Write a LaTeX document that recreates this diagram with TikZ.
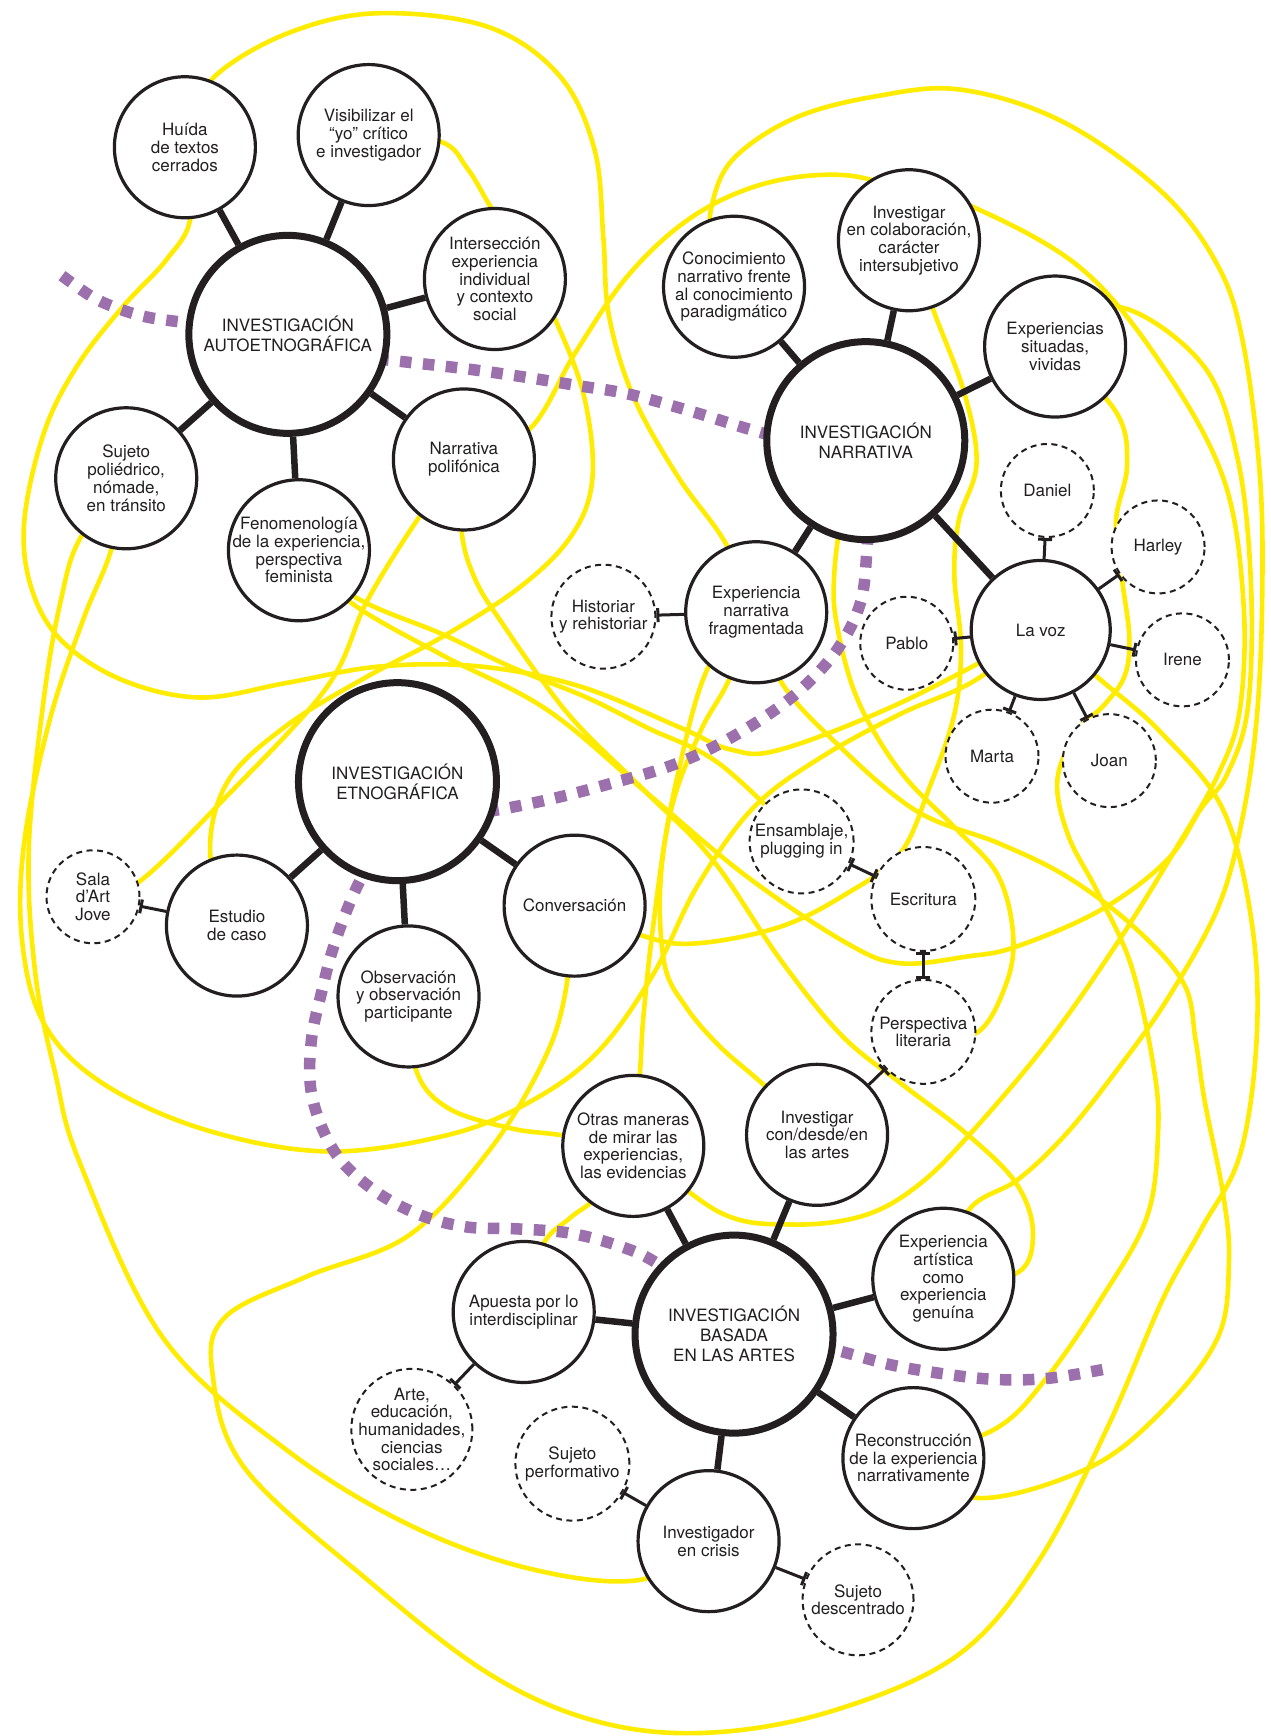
\documentclass[tikz,border=0pt]{standalone}
\usepackage{fontspec}
\setmainfont{TeX Gyre Heros}
\usetikzlibrary{arrows.meta}
\definecolor{ylw}{RGB}{255,236,0}
\definecolor{purp}{RGB}{155,112,172}
\definecolor{ink}{RGB}{35,31,32}
\pgfdeclarelayer{bg}
\pgfsetlayers{bg,main}
\newcommand{\cn}[5]{\node[#1] (#3) at (#4) {}; \node[#2] (#3t) at (#3.center) {#5};}
\begin{document}
\begin{tikzpicture}[x=1.1071pt,y=-1.1071pt,
 mainc/.style={circle,draw=ink,line width=7pt,fill=white,minimum size=198pt,inner sep=0pt},
 secc/.style={circle,draw=ink,line width=3.2pt,fill=white,minimum size=141pt,inner sep=0pt},
 dashc/.style={circle,draw=ink,line width=2pt,dash pattern=on 6pt off 4.5pt,fill=white,minimum size=#1,inner sep=0pt},
 dashc/.default=93pt,
 txt/.style={align=center,font=\fontsize{17}{17.7}\selectfont,text=ink,inner sep=0pt},
 mtxt/.style={align=center,font=\fontsize{17}{20}\selectfont,text=ink,inner sep=0pt},
 lk/.style={draw=ink,line width=6.5pt},
 tl/.style={draw=ink,line width=3pt},
 tbar/.style={tl,-{Bar[width=14pt]}},
 ttbar/.style={tl,{Bar[width=14pt]}-{Bar[width=14pt]}},
 yel/.style={draw=ylw,line width=4.6pt},
 pdash/.style={draw=purp,line width=11.5pt,dash pattern=on 11.5pt off 11.5pt}]
\useasboundingbox (0,0) rectangle (1148,1568);
\begin{pgfonlayer}{bg}
\fill[white] (0,0) rectangle (1148,1568);
% yellow curves
\draw[yel] plot[smooth,tension=0.6] coordinates {(172,110) (195,68) (260,30) (340,12) (440,24) (505,68) (537,135) (545,215) (550,285) (572,358) (612,430) (655,490) (683,553)};
\draw[yel] plot[smooth,tension=0.6] coordinates {(419,415) (478,388) (520,318) (568,248) (625,196) (690,166) (760,158) (821,172) (879,187) (976,242) (1049,329) (1105,432) (1123,542) (1120,640) (1100,700) (1060,770) (1009,852) (948,939) (880,1020) (830,1070) (780,1098) (715,1106) (650,1095) (572,1035)};
\draw[yel] plot[smooth,tension=0.6] coordinates {(663,259) (646,215) (642,190) (661,145) (717,107) (791,87) (868,81) (960,110) (1049,173) (1100,240) (1123,311) (1138,430) (1140,542) (1135,650) (1122,740) (1100,820) (1054,903) (1010,965) (964,1023) (920,1065) (875,1093) (852,1155)};
\draw[yel] plot[smooth,tension=0.6] coordinates {(953,313) (1009,277) (1086,329) (1118,415) (1130,530) (1127,640) (1108,700) (1085,730) (1054,777) (994,822) (918,855) (873,864) (813,870) (765,852) (675,792) (584,716) (494,641) (400,592) (318,545) (270,497)};
\draw[yel] plot[smooth,tension=0.6] coordinates {(270,497) (322,540) (400,573) (463,603) (530,630) (584,657) (650,690) (724,760)};
\draw[yel] plot[smooth,tension=0.6] coordinates {(953,313) (1008,372) (1018,420) (1008,470) (1013,520) (1020,575) (1016,610) (998,636) (972,662) (955,705) (965,755) (992,807) (1022,873) (1042,964) (1046,1023) (1036,1099) (994,1174) (945,1245) (900,1290) (825,1317)};
\draw[yel] plot[smooth,tension=0.6] coordinates {(114,432) (72,487) (55,542) (40,628) (26,766) (32,880) (50,970) (72,1050) (147,1208) (258,1309) (369,1377) (479,1417) (578,1427) (640,1392)};
\draw[yel] plot[smooth,tension=0.6] coordinates {(114,432) (100,498) (75,560) (45,650) (22,760) (20,850) (40,925) (92,978) (184,1020) (295,1040) (405,1025) (479,995) (540,950) (590,880) (630,800) (680,730) (740,685) (813,645) (880,615) (940,569)};
\draw[yel] plot[smooth,tension=0.6] coordinates {(167,133) (172,197) (150,235) (111,277) (70,330) (40,390) (22,470) (28,530) (55,578) (110,614) (181,630) (258,617) (343,602) (434,602) (524,620) (614,657) (660,677) (705,677) (813,635) (940,569)};
\draw[yel] plot[smooth,tension=0.6] coordinates {(333,122) (398,128) (422,152) (442,185) (475,240) (503,292) (528,360) (535,433) (516,484) (470,530) (400,575) (330,612) (258,656) (205,707) (190,773) (214,836)};
\draw[yel] plot[smooth,tension=0.6] coordinates {(419,415) (380,465) (332,542) (295,621) (203,721) (125,797) (84,810)};
\draw[yel] plot[smooth,tension=0.6] coordinates {(419,415) (417,480) (430,525) (455,565) (490,615) (524,657) (584,716) (644,777) (705,867) (760,935) (813,978) (873,1024) (918,1069) (933,1114) (918,1150) (852,1155)};
\draw[yel] plot[smooth,tension=0.6] coordinates {(821,217) (843,280) (871,355) (882,419) (866,470) (862,520) (868,585) (862,645) (840,710) (813,771) (765,807) (705,837) (630,852) (583,846) (519,818)};
\draw[yel] plot[smooth,tension=0.6] coordinates {(782,398) (760,470) (753,530) (757,570) (770,620) (790,662) (820,705) (864,749) (901,790) (915,843) (909,888) (882,933) (834,932)};
\draw[yel] plot[smooth,tension=0.6] coordinates {(683,553) (640,602) (613,696) (597,790) (600,870) (620,910) (650,945) (690,980) (738,1025)};
\draw[yel] plot[smooth,tension=0.6] coordinates {(683,553) (658,615) (632,662) (606,732) (590,836) (581,920) (578,969) (572,1035) (540,1080) (515,1100) (490,1125) (473,1185)};
\draw[yel] plot[smooth,tension=0.6] coordinates {(683,553) (705,615) (753,669) (827,732) (903,762) (964,792) (1024,837) (1069,888) (1080,940) (1088,994) (1105,1080) (1110,1140) (1100,1208) (1049,1275) (983,1326) (883,1353) (825,1317)};
\draw[yel] plot[smooth,tension=0.6] coordinates {(940,569) (994,614) (1049,662) (1105,732) (1131,836) (1135,939) (1120,1043) (1085,1110) (1050,1174) (1000,1290) (938,1410) (865,1495) (753,1545) (640,1565) (540,1555) (442,1512) (332,1427) (221,1326) (192,1241) (203,1190) (277,1153) (369,1116) (442,1039) (490,960) (510,900) (519,818)};
\draw[yel] plot[smooth,tension=0.6] coordinates {(369,900) (376,967) (405,1001) (461,1019) (505,1025) (572,1035)};
% purple dashed line
\draw[pdash] plot[smooth,tension=0.6] coordinates {(56,249) (83,268) (105,278) (127,285) (149,289) (200,295)};
\draw[pdash] plot[smooth,tension=0.6] coordinates {(320,322) (367,327) (420,333) (470,340) (520,348) (568,356) (626,372) (671,386) (720,400)};
\draw[pdash] plot[smooth,tension=0.6] coordinates {(786,440) (783,498) (777,545) (756,587) (723,623) (687,650) (644,675) (602,693) (554,707) (509,719) (463,729) (400,740)};
\draw[pdash] plot[smooth,tension=0.6] coordinates {(345,760) (321,804) (302,853) (291,894) (281,942) (282,991) (302,1040) (335,1073) (376,1096) (420,1108) (468,1110) (516,1114) (564,1127) (595,1142) (640,1175)};
\draw[pdash] plot[smooth,tension=0.6] coordinates {(700,1205) (761,1221) (806,1233) (853,1241) (900,1246) (946,1245) (996,1237)};
\end{pgfonlayer}
% nodes
\cn{mainc}{mtxt}{auto}{260,302}{INVESTIGACIÓN\\AUTOETNOGRÁFICA}
\cn{secc}{txt}{huida}{167,133}{Huída\\de textos\\cerrados}
\cn{secc}{txt}{visib}{333,122}{Visibilizar el\\“yo” crítico\\e investigador}
\cn{secc}{txt}{inters}{447,252}{Intersección\\experiencia\\individual\\y contexto\\social}
\cn{secc}{txt}{narpol}{419,415}{Narrativa\\polifónica}
\cn{secc}{txt}{fenom}{270,497}{Fenomenología\\de la experiencia,\\perspectiva\\feminista}
\cn{secc}{txt}{sujeto}{114,432}{Sujeto\\poliédrico,\\nómade,\\en tránsito}
\cn{mainc}{mtxt}{narr}{782,398}{INVESTIGACIÓN\\NARRATIVA}
\cn{secc}{txt}{conoc}{663,259}{Conocimiento\\narrativo frente\\al conocimiento\\paradigmático}
\cn{secc}{txt}{colab}{821,217}{Investigar\\en colaboración,\\carácter\\intersubjetivo}
\cn{secc}{txt}{expsit}{953,313}{Experiencias\\situadas,\\vividas}
\cn{secc}{txt}{enf}{683,553}{Experiencia\\narrativa\\fragmentada}
\cn{secc,minimum size=139pt}{txt}{lavoz}{940,569}{La voz}
\cn{dashc}{txt}{daniel}{946,443}{Daniel}
\cn{dashc}{txt}{harley}{1046,494}{Harley}
\cn{dashc}{txt}{irene}{1068,596}{Irene}
\cn{dashc}{txt}{joan}{1002,687}{Joan}
\cn{dashc}{txt}{marta}{896,683}{Marta}
\cn{dashc}{txt}{pablo}{819,581}{Pablo}
\cn{dashc=104pt}{txt}{histor}{545,557}{Historiar\\y rehistoriar}
\cn{mainc}{mtxt}{etno}{359,706}{INVESTIGACIÓN\\ETNOGRÁFICA}
\cn{secc}{txt}{estudio}{214,836}{Estudio\\de caso}
\cn{secc}{txt}{obs}{369,900}{Observación\\y observación\\participante}
\cn{secc}{txt}{conv}{519,818}{Conversación}
\cn{dashc}{txt}{sala}{84,810}{Sala\\d’Art\\Jove}
\cn{dashc=104pt}{txt}{ensam}{724,760}{Ensamblaje,\\plugging in}
\cn{dashc=104pt}{txt}{escrit}{834,812}{Escritura}
\cn{dashc=104pt}{txt}{persp}{834,932}{Perspectiva\\literaria}
\cn{mainc}{mtxt}{artes}{663,1205}{INVESTIGACIÓN\\BASADA\\EN LAS ARTES}
\cn{secc}{txt}{otras}{572,1035}{Otras maneras\\de mirar las\\experiencias,\\las evidencias}
\cn{secc}{txt}{condesde}{738,1025}{Investigar\\con/desde/en\\las artes}
\cn{secc}{txt}{expart}{852,1155}{Experiencia\\artística\\como\\experiencia\\genuína}
\cn{secc}{txt}{recon}{825,1317}{Reconstrucción\\de la experiencia\\narrativamente}
\cn{secc}{txt}{crisis}{640,1392}{Investigador\\en crisis}
\cn{secc}{txt}{apuesta}{473,1185}{Apuesta por lo\\interdisciplinar}
\cn{dashc=121pt}{txt}{arte}{372,1291}{Arte,\\educación,\\humanidades,\\ciencias\\sociales…}
\cn{dashc=114pt}{txt}{sujperf}{517,1322}{Sujeto\\performativo}
\cn{dashc=111pt}{txt}{sujdesc}{775,1445}{Sujeto\\descentrado}
% thick connectors
\draw[lk] (auto) -- (huida);
\draw[lk] (auto) -- (visib);
\draw[lk] (auto) -- (inters);
\draw[lk] (auto) -- (narpol);
\draw[lk] (auto) -- (fenom);
\draw[lk] (auto) -- (sujeto);
\draw[lk] (narr) -- (conoc);
\draw[lk] (narr) -- (colab);
\draw[lk] (narr) -- (expsit);
\draw[lk] (narr) -- (enf);
\draw[lk] (narr) -- (lavoz);
\draw[lk] (etno) -- (estudio);
\draw[lk] (etno) -- (obs);
\draw[lk] (etno) -- (conv);
\draw[lk] (artes) -- (otras);
\draw[lk] (artes) -- (condesde);
\draw[lk] (artes) -- (expart);
\draw[lk] (artes) -- (recon);
\draw[lk] (artes) -- (crisis);
\draw[lk] (artes) -- (apuesta);
% thin connectors with bars
\draw[tbar] (lavoz) -- (daniel);
\draw[tbar] (lavoz) -- (harley);
\draw[tbar] (lavoz) -- (irene);
\draw[tbar] (lavoz) -- (joan);
\draw[tbar] (lavoz) -- (marta);
\draw[tbar] (lavoz) -- (pablo);
\draw[tbar] (enf) -- (histor);
\draw[tbar] (estudio) -- (sala);
\draw[ttbar] (ensam) -- (escrit);
\draw[ttbar] (escrit) -- (persp);
\draw[tbar] (condesde) -- (persp);
\draw[tbar] (apuesta) -- (arte);
\draw[tbar] (crisis) -- (sujperf);
\draw[tbar] (crisis) -- (sujdesc);
\end{tikzpicture}
\end{document}
